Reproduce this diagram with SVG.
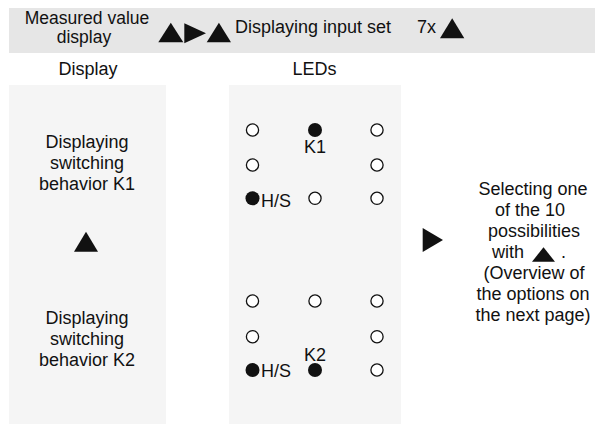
<svg xmlns="http://www.w3.org/2000/svg" width="595" height="424" viewBox="0 0 595 424">
<style>
text{font-family:"Liberation Sans",Arial,sans-serif;font-size:18px;fill:#111}
.c{text-anchor:middle}
.h2{font-size:17.5px}
.tri{fill:#111}
.led{fill:#fff;stroke:#111;stroke-width:1.3}
.on{fill:#111}
</style>
<rect width="595" height="424" fill="#fff"/>
<g id="header">
<rect x="9" y="8" width="586" height="45" fill="#e6e6e6"/>
<text class="c h2" x="87" y="24">Measured value</text>
<text class="c h2" x="84" y="43">display</text>
<polygon class="tri" points="158.3,42.3 170.8,22.7 183.3,42.3"/>
<polygon class="tri" points="184.3,23.3 206,33.3 184.3,43.3"/>
<polygon class="tri" points="206.7,42.3 218.9,22.7 231,42.3"/>
<text x="235" y="33.3">Displaying input set</text>
<text x="417" y="33.3">7x</text>
<polygon class="tri" points="440,38.3 452.2,18.3 464.3,38.3"/>
</g>
<g id="labels">
<text class="c" x="88" y="75">Display</text>
<text class="c" x="314.5" y="75">LEDs</text>
</g>
<g id="display-panel">
<rect x="9" y="85" width="157" height="339" fill="#f5f5f5"/>
<text class="c" x="87" y="148">Displaying</text>
<text class="c" x="87" y="169">switching</text>
<text class="c" x="87" y="190">behavior K1</text>
<polygon class="tri" points="74,251.7 86,231.7 98,251.7"/>
<text class="c" x="87" y="324">Displaying</text>
<text class="c" x="87" y="345">switching</text>
<text class="c" x="87" y="366">behavior K2</text>
</g>
<g id="led-panel">
<rect x="229" y="85" width="172" height="339" fill="#f5f5f5"/>
<g id="leds-k1">
<circle class="led" cx="252.5" cy="130" r="6.1"/>
<circle class="on" cx="315" cy="130" r="7"/>
<circle class="led" cx="377" cy="130" r="6.1"/>
<text class="c" x="315" y="153">K1</text>
<circle class="led" cx="252.5" cy="165" r="6.1"/>
<circle class="led" cx="377" cy="165" r="6.1"/>
<circle class="on" cx="252.5" cy="198.3" r="7"/>
<text x="261" y="206.5">H/S</text>
<circle class="led" cx="315" cy="198.3" r="6.1"/>
<circle class="led" cx="377" cy="198.3" r="6.1"/>
</g>
<g id="leds-k2">
<circle class="led" cx="252.5" cy="301" r="6.1"/>
<circle class="led" cx="315" cy="301" r="6.1"/>
<circle class="led" cx="377" cy="301" r="6.1"/>
<circle class="led" cx="252.5" cy="336.7" r="6.1"/>
<circle class="led" cx="377" cy="336.7" r="6.1"/>
<circle class="on" cx="252.5" cy="370" r="7"/>
<text x="261" y="377">H/S</text>
<text class="c" x="315" y="360.5">K2</text>
<circle class="on" cx="315" cy="370" r="7"/>
<circle class="led" cx="377" cy="370" r="6.1"/>
</g>
</g>
<g id="selection">
<polygon class="tri" points="422.7,228 443,240 422.7,252"/>
<text class="c" x="533" y="195">Selecting one</text>
<text class="c" x="530" y="216">of the 10</text>
<text class="c" x="534" y="237">possibilities</text>
<text x="492" y="258">with</text>
<polygon class="tri" points="532,261.7 543.5,247.3 555,261.7"/>
<text x="561" y="258">.</text>
<text class="c" x="534" y="279">(Overview of</text>
<text class="c" x="533" y="300">the options on</text>
<text class="c" x="533" y="321">the next page)</text>
</g>
</svg>
